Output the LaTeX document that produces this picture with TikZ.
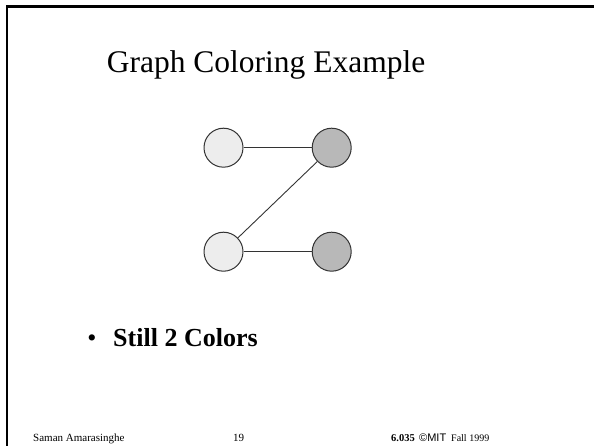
\documentclass[tikz,border=0pt]{standalone}
\usepackage{fontspec}
\setmainfont{Liberation Serif}
\setsansfont{Liberation Sans}
\usetikzlibrary{positioning}

\definecolor{lightnode}{HTML}{EDEDED}
\definecolor{darknode}{HTML}{B8B8B8}
\definecolor{edgegray}{HTML}{333333}

\tikzset{
	vertex/.style={circle,draw=edgegray,line width=1pt,minimum size=39pt,inner sep=0pt},
	graphedge/.style={draw=edgegray,line width=0.9pt},
	footer/.style={anchor=base west,inner sep=0pt,font=\fontsize{11}{13}\selectfont}
}

\begin{document}
\begin{tikzpicture}[x=1pt,y=-1pt]
	
	\useasboundingbox (0,0) rectangle (594,446);
	
	% Draw the slide frame
	\draw[line width=2.8pt] (7,446) -- (7,6.4) -- (594,6.4);
	
	% Title
	\node[anchor=base,inner sep=0pt,font=\fontsize{31.5}{36}\selectfont] (title) at (266,73) {Graph Coloring Example};
	
	% Draw the graph
	\node[vertex,fill=lightnode] (a) at (223.5,147.7) {};
	\node[vertex,fill=darknode] (b) at (331.7,147.7) {};
	\node[vertex,fill=lightnode] (c) at (223.5,251.7) {};
	\node[vertex,fill=darknode] (d) at (331.7,251.7) {};
	\draw[graphedge] (a) -- (b);
	\draw[graphedge] (b) -- (c);
	\draw[graphedge] (c) -- (d);
	
	% Bullet text
	\node[anchor=base,inner sep=0pt,font=\fontsize{26}{30}\selectfont] (bullet) at (92,346) {\textbullet};
	\node[anchor=base west,inner sep=0pt,font=\fontsize{26}{30}\selectfont\bfseries] (point) at (113,346) {Still 2 Colors};
	
	% Footer
	\node[footer] (author) at (33,441) {Saman Amarasinghe};
	\node[footer] (page) at (233,441) {19};
	\node[footer,font=\fontsize{10.5}{12}\selectfont\bfseries] (course) at (391,441) {6.035};
	\node[footer,font=\fontsize{11}{13}\selectfont\sffamily] (mit) at (419,441) {©MIT};
	\node[footer,font=\fontsize{10}{12}\selectfont] (term) at (451,441) {Fall 1999};

\end{tikzpicture}
\end{document}
